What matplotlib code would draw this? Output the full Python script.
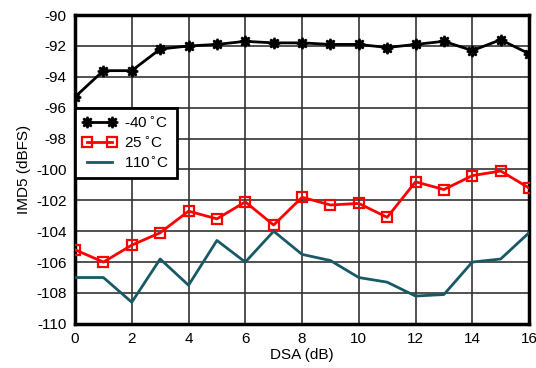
import numpy as np
import matplotlib.pyplot as plt

plt.rcParams['font.family'] = ['Liberation Sans', 'DejaVu Sans']
plt.rcParams['axes.unicode_minus'] = False

dsa = np.arange(0, 17)
imd5_m40 = [-95.3, -93.6, -93.6, -92.2, -92.0, -91.9, -91.7, -91.8, -91.8,
            -91.9, -91.9, -92.1, -91.9, -91.7, -92.3, -91.6, -92.5]
imd5_25 = [-105.2, -106.0, -104.9, -104.1, -102.7, -103.2, -102.1, -103.6, -101.8,
           -102.3, -102.2, -103.1, -100.8, -101.3, -100.4, -100.1, -101.2]
imd5_110 = [-107.0, -107.0, -108.6, -105.8, -107.5, -104.6, -106.0, -104.0, -105.5,
            -105.9, -107.0, -107.3, -108.2, -108.1, -106.0, -105.8, -104.1]
labels = ['-40$\\,^{\\circ}$C', '25$\\,^{\\circ}$C', '110$^{\\circ}$C']

fig = plt.figure(figsize=(5.36, 3.68), dpi=100)
ax = fig.add_axes([0.14, 0.12, 0.847, 0.839])

ax.plot(dsa, imd5_m40, color='black', linewidth=2, marker=(8, 1, 0), markersize=8,
        markeredgewidth=1.5, label=labels[0], zorder=3)
ax.plot(dsa, imd5_25, color='#ff0000', linewidth=2, marker='s', markersize=7,
        markerfacecolor='none', markeredgewidth=1.6, label=labels[1], zorder=3)
ax.plot(dsa, imd5_110, color='#175a66', linewidth=2, label=labels[2], zorder=3)

ax.set_xlim(0, 16)
ax.set_ylim(-110, -90)
ax.set_xticks(np.arange(0, 17, 2))
ax.set_yticks(np.arange(-110, -89, 2))
ax.grid(True, color='#333333', linewidth=1.2)
for s in ax.spines.values():
    s.set_linewidth(2.5)
ax.tick_params(length=0, labelsize=11, pad=6)

ax.set_xlabel('DSA (dB)', fontsize=11, labelpad=1)
ax.set_ylabel('IMD5 (dBFS)', fontsize=11, labelpad=4)

leg = ax.legend(loc='upper left', bbox_to_anchor=(0.0, 0.70), fontsize=11,
                frameon=True, fancybox=False, framealpha=1, edgecolor='black',
                numpoints=2, handlelength=2.2, borderpad=0.5, labelspacing=0.3,
                handletextpad=0.5, borderaxespad=0.0)
leg.get_frame().set_linewidth(2)

fig.savefig('out.png', dpi=100)
